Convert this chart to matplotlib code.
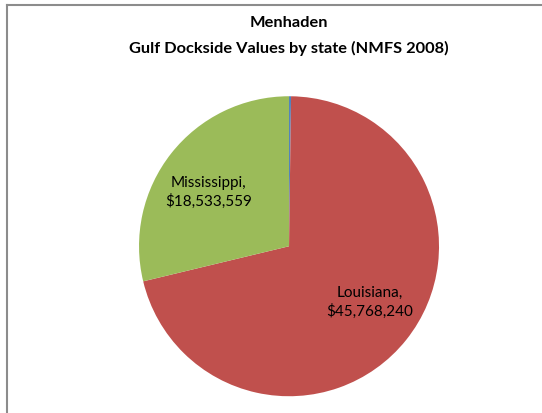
import matplotlib
matplotlib.use("Agg")
import matplotlib.pyplot as plt
from matplotlib.lines import Line2D
import numpy as np

# dockside values by state, 2008
states = ["Alabama", "Louisiana", "Mississippi"]
values = [140000, 45768240, 18533559]
colors = ["#4F81BD", "#C0504D", "#9BBB59"]
shown = [False, True, True]

plt.rcParams['font.family'] = ['Lato', 'DejaVu Sans']

fig = plt.figure(figsize=(5.42, 4.14), dpi=100)

# chart frame (gray border on top and left)
fig.add_artist(Line2D([7/542, 7/542], [0, 1 - 6/414], transform=fig.transFigure,
                      color="#8c8c8c", lw=1.5))
fig.add_artist(Line2D([7/542, 1], [1 - 6/414, 1 - 6/414], transform=fig.transFigure,
                      color="#8c8c8c", lw=1.5))

fig.text(0.533, 1 - 23/414, "Menhaden", ha="center", va="center",
         fontsize=11.8, fontweight="bold")
fig.text(0.533, 1 - 48/414, "Gulf Dockside Values by state (NMFS 2008)", ha="center",
         va="center", fontsize=11.8, fontweight="bold")

ax = fig.add_axes([0.2565, 0.0405, 0.5535, 0.7246])
wedges, _ = ax.pie(values, colors=colors, startangle=90, counterclock=False,
                   wedgeprops=dict(linewidth=0))
ax.set_xlim(-1, 1)
ax.set_ylim(-1, 1)
ax.set_aspect("equal")

# labels sit a bit inside the wedge, nudged toward the horizontal
for w, name, v, s in zip(wedges, states, values, shown):
    if not s:
        continue
    mid = (w.theta1 + w.theta2) / 2
    ang = np.deg2rad(mid + 4)
    r = 0.65
    ax.text(r * np.cos(ang), r * np.sin(ang), f"{name},\n${v:,}", ha="center",
            va="center", fontsize=11, linespacing=1.3)

fig.savefig("out.png", dpi=100)
